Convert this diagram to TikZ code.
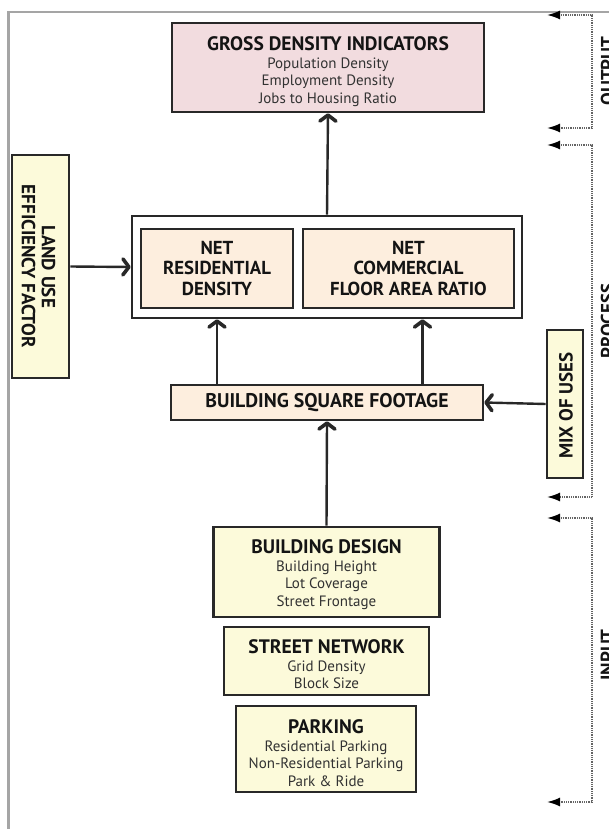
\documentclass[tikz,border=0pt]{standalone}
\usepackage{fontspec}
\setmainfont{PT Sans}
\usetikzlibrary{arrows.meta}
\definecolor{framegray}{RGB}{165,165,165}
\definecolor{boxline}{RGB}{40,40,40}
\definecolor{inktext}{RGB}{20,20,20}
\definecolor{subtext}{RGB}{50,50,50}
\definecolor{pinkfill}{RGB}{242,220,223}
\definecolor{peachfill}{RGB}{253,238,222}
\definecolor{creamfill}{RGB}{252,250,218}
\definecolor{dotgray}{RGB}{100,100,100}
\tikzset{
  box/.style={draw=boxline, line width=2.6pt, text=inktext, align=center,
    inner sep=0pt, font=\fontsize{15}{17.5}\selectfont},
  grossbox/.style={box, fill=pinkfill},
  netbox/.style={box, fill=peachfill, font=\fontsize{18.8}{20.5}\selectfont\bfseries},
  inbox/.style={box, fill=creamfill},
  sidebox/.style={box, fill=creamfill},
  sidetext/.style={align=center, text=inktext, inner sep=0pt,
    font=\fontsize{19}{20}\selectfont\bfseries},
  holder/.style={draw=boxline, line width=2.6pt, fill=white, inner sep=0pt},
  flow/.style={draw=boxline, line width=2.4pt,
    -{Straight Barb[length=6pt, width=16pt, line width=3.6pt, round]}},
  bracket/.style={draw=dotgray, line width=1.8pt, dash pattern=on 0.9pt off 0.9pt,
    {Latex[length=13pt, width=9pt, color=black]}-{Latex[length=13pt, width=9pt, color=black]}},
  stage/.style={rotate=90, anchor=north, inner sep=0pt, text=inktext,
    font=\fontsize{19}{20}\selectfont\bfseries},
}
\newcommand{\hd}[1]{{\fontsize{19.5}{17.5}\selectfont\bfseries #1}}
\newcommand{\sub}[1]{\textcolor{subtext}{#1}}
\begin{document}
\begin{tikzpicture}[x=1pt, y=-1pt]
\useasboundingbox (0,0) rectangle (609,829);
% outer frame
\draw[framegray, line width=2.5pt] (8.5,840) -- (8.5,12) -- (620,12);

% output
\node[grossbox, minimum width=312pt, minimum height=89pt] (gross) at (328,67.5) {};
\node[align=center, inner sep=0pt, text=inktext, font=\fontsize{15}{17.5}\selectfont,
  anchor=north] (grosstxt) at (328,36)
  {\hd{GROSS DENSITY INDICATORS}\\[0.5pt]\sub{Population Density}\\\sub{Employment Density}\\\sub{Jobs to Housing Ratio}};

% net densities
\node[holder, minimum width=390pt, minimum height=102pt] (net) at (327,267) {};
\node[netbox, minimum width=152pt, minimum height=79pt] (netres) at (217,268.5)
  {NET\\RESIDENTIAL\\DENSITY};
\node[netbox, minimum width=211pt, minimum height=79pt] (netcom) at (408.5,268.5)
  {NET\\COMMERCIAL\\FLOOR AREA RATIO};

% modifiers
\node[sidebox, minimum width=57pt, minimum height=223pt] (landuse) at (40.5,266.5) {};
\node[sidetext, rotate=-90] (landusetxt) at (38.5,266.5)
  {LAND USE\\EFFICIENCY FACTOR};
\node[sidebox, minimum width=36pt, minimum height=148pt] (mix) at (565,404) {};
\node[sidetext, rotate=90] (mixtxt) at (566,405.5) {MIX OF USES};

% building square footage
\node[netbox, minimum width=312pt, minimum height=35pt,
  font=\fontsize{19.8}{20}\selectfont\bfseries] (bsf) at (327,402.5)
  {BUILDING SQUARE FOOTAGE};

% inputs
\node[inbox, minimum width=226pt, minimum height=90pt] (design) at (326.5,572) {};
\node[align=center, inner sep=0pt, text=inktext, font=\fontsize{15}{17.5}\selectfont,
  anchor=north] (designtxt) at (326.5,539)
  {\hd{BUILDING DESIGN}\\[0.5pt]\sub{Building Height}\\\sub{Lot Coverage}\\\sub{Street Frontage}};
\node[inbox, minimum width=205pt, minimum height=68pt] (street) at (326.5,661) {};
\node[align=center, inner sep=0pt, text=inktext, font=\fontsize{15}{17.5}\selectfont,
  anchor=north] (streettxt) at (326.5,639)
  {\hd{STREET NETWORK}\\[0.5pt]\sub{Grid Density}\\\sub{Block Size}};
\node[inbox, minimum width=180pt, minimum height=86pt] (parking) at (326,749) {};
\node[align=center, inner sep=0pt, text=inktext, font=\fontsize{15}{17.5}\selectfont,
  anchor=north] (parkingtxt) at (326,719)
  {\hd{PARKING}\\[0.5pt]\sub{Residential Parking}\\\sub{Non-Residential Parking}\\\sub{Park \& Ride}};

% flows
\draw[flow] (net.north) -- (gross.south);
\draw[flow] (landuse.east) -- (net.west);
\draw[flow] (mix.west) -- (bsf.east);
\draw[flow] (design.north) -- (bsf.south);
\draw[flow] (bsf.north -| netres.south) -- (net.south -| netres.south);
\draw[flow] ([xshift=14pt]bsf.north -| netcom.south) -- ([xshift=14pt]net.south -| netcom.south);

% stage brackets
\coordinate (outA) at (547,15);
\coordinate (outB) at (547,128);
\coordinate (procA) at (547,145);
\coordinate (procB) at (547,497);
\coordinate (inA) at (547,518);
\coordinate (inB) at (547,802);
\draw[bracket] (outA) -- (592,15) -- (592,128) -- (outB);
\draw[bracket] (procA) -- (592,145) -- (592,497) -- (procB);
\draw[bracket] (inA) -- (592,518) -- (592,802) -- (inB);
\node[stage] (outlbl) at (600.5,71) {OUTPUT};
\node[stage] (proclbl) at (600.5,321) {PROCESS};
\node[stage] (inlbl) at (600.5,655) {INPUT};
\end{tikzpicture}
\end{document}
